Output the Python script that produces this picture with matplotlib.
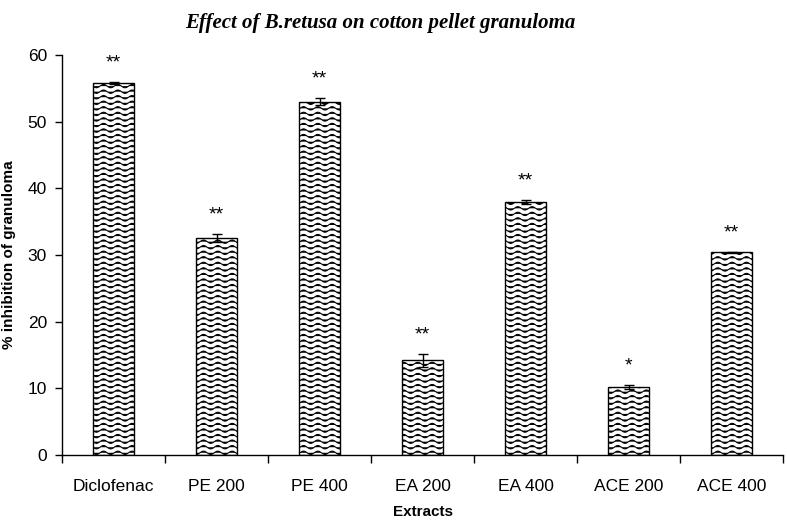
import matplotlib
matplotlib.use("Agg")
import matplotlib.pyplot as plt
import matplotlib.hatch as mhatch
from matplotlib.path import Path
import numpy as np

extracts = ["Diclofenac", "PE 200", "PE 400", "EA 200", "EA 400", "ACE 200", "ACE 400"]
inhibition = [55.8, 32.5, 53.0, 14.2, 38.0, 10.2, 30.4]
sem = [0.2, 0.6, 0.5, 1.0, 0.3, 0.3, 0.1]
signif = ["**", "**", "**", "**", "**", "*", "**"]


# wavy hatch in place of the plain horizontal one
class WaveHatch(mhatch.HatchPatternBase):
    def __init__(self, hatch, density):
        self.num_lines = int((hatch.count('-') + hatch.count('+')) * density)
        self.npts = 7 * 12 + 1
        self.num_vertices = self.num_lines * self.npts

    def set_vertices_and_codes(self, vertices, codes):
        steps, stepsize = np.linspace(0.0, 1.0, self.num_lines, False, retstep=True)
        steps += stepsize / 2.
        xs = np.linspace(0, 1, self.npts)
        wave = 0.017 * np.sin(2 * np.pi * 7 * xs)
        for i, s in enumerate(steps):
            a = i * self.npts
            vertices[a:a + self.npts, 0] = xs
            vertices[a:a + self.npts, 1] = s + wave
            codes[a:a + self.npts] = Path.LINETO
            codes[a] = Path.MOVETO


mhatch._hatch_types = [WaveHatch if t is mhatch.HorizontalHatch else t
                       for t in mhatch._hatch_types]

plt.rcParams['font.family'] = ['Liberation Sans', 'DejaVu Sans']
plt.rcParams['hatch.linewidth'] = 0.75

fig = plt.figure(figsize=(7.87, 5.2), dpi=100)
ax = fig.add_axes([0.079, 0.125, 0.916, 0.769])

x = np.arange(len(extracts))
ax.bar(x, inhibition, width=0.4, color='white', edgecolor='black',
       linewidth=1.0, hatch='---')
ax.errorbar(x, inhibition, yerr=sem, fmt='none', ecolor='black',
            elinewidth=1.0, capsize=3.5, capthick=1.0)

for xi, v, e, s in zip(x, inhibition, sem, signif):
    ax.text(xi, v + e + 1.6, s, ha='center', va='bottom', fontsize=14)

ax.set_xlim(-0.5, len(extracts) - 0.5)
ax.set_ylim(0, 60)
ax.set_yticks(range(0, 61, 10))
ax.set_xticks(np.arange(-0.5, len(extracts), 1.0))
ax.set_xticklabels([])
ax.set_xticks(x, minor=True)
ax.set_xticklabels(extracts, minor=True)
ax.tick_params(axis='x', which='major', direction='out', length=6, width=1)
ax.tick_params(axis='x', which='minor', length=0, pad=17, labelsize=12.5)
ax.tick_params(axis='y', direction='out', length=5, width=1, labelsize=12.5, pad=6)

for side in ['top', 'right']:
    ax.spines[side].set_visible(False)
ax.spines['left'].set_linewidth(1.0)
ax.spines['bottom'].set_linewidth(1.0)

ax.set_xlabel("Extracts", fontweight='bold', fontsize=11, labelpad=8)
ax.set_ylabel("% inhibition of granuloma", fontweight='bold', fontsize=11, labelpad=8)

fig.text(0.483, 0.955, "Effect of B.retusa on cotton pellet granuloma",
         ha='center', va='center', fontsize=15, fontweight='bold',
         fontstyle='italic', family=['Liberation Serif', 'DejaVu Serif'])

fig.savefig("out.png", dpi=100)
